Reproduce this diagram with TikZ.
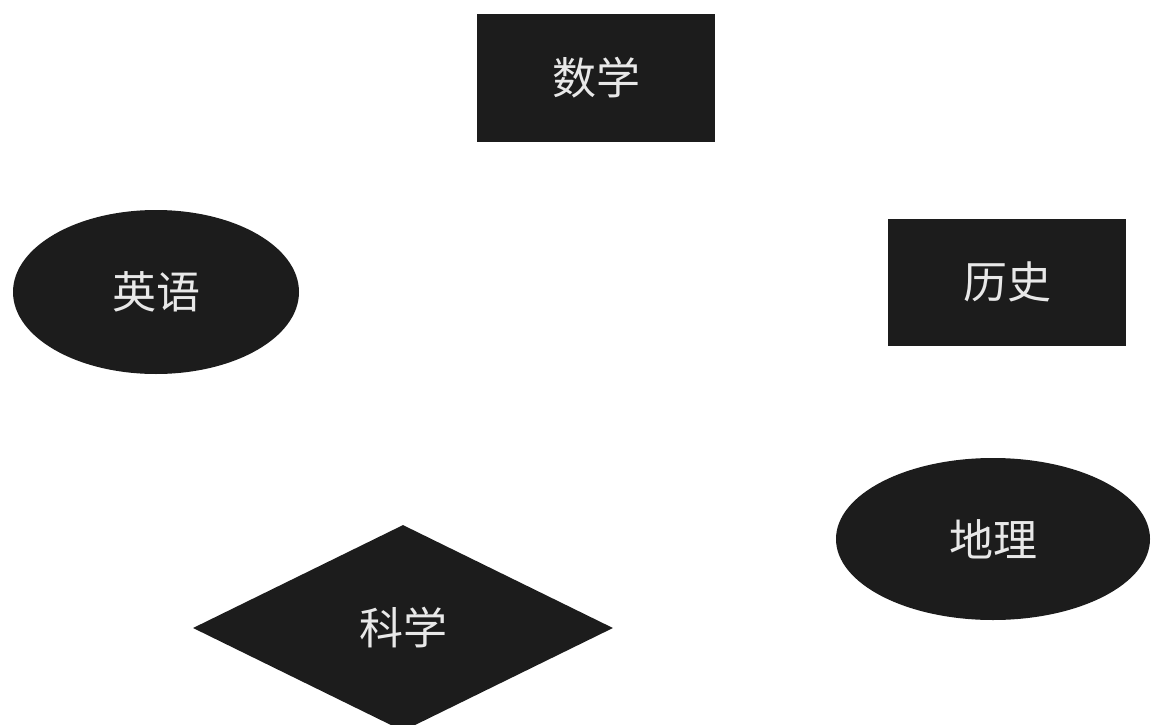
\documentclass[tikz,border=0pt]{standalone}
\usepackage{fontspec}
\usetikzlibrary{shapes.geometric}
\newfontfamily\cjk{Noto Sans CJK SC}
\definecolor{shapefill}{HTML}{1C1C1C}
\definecolor{labeltext}{HTML}{E8E8E8}
\tikzset{
  base/.style={fill=shapefill, draw=none, inner sep=0pt, text=labeltext,
    font=\cjk\fontsize{44}{48}\selectfont},
  boxshape/.style={base, rectangle, minimum width=238pt, minimum height=127pt},
  ovalshape/.style={base, ellipse},
  diashape/.style={base, diamond, minimum width=420pt, minimum height=206pt}
}
\begin{document}
\begin{tikzpicture}[x=1pt,y=-1pt]
\useasboundingbox (0,0) rectangle (1162,725);
\begin{scope}
\clip (0,0) rectangle (1162,725);
\node[boxshape] (math) at (596,78) {数学};
\node[ovalshape, minimum width=286pt, minimum height=164pt] (english) at (156,292) {英语};
\node[boxshape] (history) at (1007,282) {历史};
\node[ovalshape, minimum width=314pt, minimum height=162pt] (geo) at (993,539) {地理};
\node[diashape] (science) at (403,628) {科学};
\end{scope}
\end{tikzpicture}
\end{document}
